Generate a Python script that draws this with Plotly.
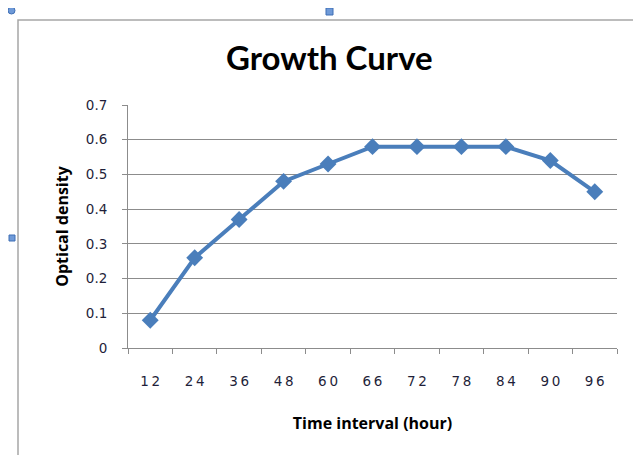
import plotly.graph_objects as go

hours = ["12", "24", "36", "48", "60", "66", "72", "78", "84", "90", "96"]
hour_labels = ["1\u20092", "2\u20094", "3\u20096", "4\u20098", "6\u20090", "6\u20096",
               "7\u20092", "7\u20098", "8\u20094", "9\u20090", "9\u20096"]
optical_density = [0.08, 0.26, 0.37, 0.48, 0.53, 0.58, 0.58, 0.58, 0.58, 0.54, 0.45]
y_ticks = [0, 0.1, 0.2, 0.3, 0.4, 0.5, 0.6, 0.7]
y_tick_labels = ["0", "0.1", "0.2", "0.3", "0.4", "0.5", "0.6", "0.7"]

W, H = 641, 455
OFF = 8  # page body margin
L, R, T, B = 120, 32, 97, 115
pw, ph = W - L - R, H - T - B

def px(x):  # screen x -> paper
    return (x - OFF - L) / pw

def py(y):  # screen y -> paper
    return (H - B - (y - OFF)) / ph

blue = "#4A7EBB"
grid = "#8C8C8C"
tickfont = dict(family="DejaVu Sans", size=13.5, color="#1F1F3A")
titlefont = dict(family="Open Sans", size=16, color="black")

fig = go.Figure()
fig.add_trace(go.Scatter(
    x=hours, y=optical_density, mode="lines+markers",
    line=dict(color=blue, width=4),
    marker=dict(symbol="diamond", size=13, color=blue),
    showlegend=False, cliponaxis=False,
))

fig.update_layout(
    width=W, height=H,
    margin=dict(l=L, r=R, t=T, b=B),
    paper_bgcolor="white", plot_bgcolor="white",
    font=dict(family="Lato, DejaVu Sans, sans-serif", color="black"),
    xaxis=dict(
        type="category", range=[-0.5, 10.5],
        tickvals=hours, ticktext=hour_labels,
        tickson="boundaries", ticks="outside", ticklen=5, tickcolor=grid,
        showline=True, linecolor=grid, linewidth=1,
        showgrid=False, zeroline=False,
        tickfont=tickfont,
        ticklabelstandoff=21,
        title=dict(text="<b>Time interval (hour)</b>", font=titlefont, standoff=29),
    ),
    yaxis=dict(
        range=[0, 0.7], tickvals=y_ticks, ticktext=y_tick_labels,
        ticks="outside", ticklen=5, tickcolor=grid,
        showline=True, linecolor=grid, linewidth=1,
        showgrid=True, gridcolor=grid, gridwidth=1, zeroline=False,
        tickfont=tickfont,
        ticklabelstandoff=12,
        title=dict(text="<b>Optical density</b>", font=titlefont, standoff=13),
    ),
    shapes=[
        dict(type="rect", xref="paper", yref="paper",
             x0=px(18), x1=px(638), y0=py(470), y1=py(20),
             line=dict(color="#A6A6A6", width=1.5), fillcolor="rgba(0,0,0,0)",
             layer="below"),
        dict(type="rect", xref="paper", yref="paper",
             x0=px(326), x1=px(333), y0=py(15), y1=py(8),
             line=dict(color="#3F6FB5", width=1), fillcolor="#6F9AD8"),
        dict(type="rect", xref="paper", yref="paper",
             x0=px(9), x1=px(15), y0=py(241), y1=py(235),
             line=dict(color="#3F6FB5", width=1), fillcolor="#6F9AD8"),
        dict(type="circle", xref="paper", yref="paper",
             x0=px(8), x1=px(15), y0=py(14), y1=py(7),
             line=dict(color="#3F6FB5", width=1), fillcolor="#6F9AD8"),
    ],
    annotations=[
        dict(text="<b>Growth Curve</b>", xref="paper", yref="paper",
             x=px(329), y=py(57), xanchor="center", yanchor="middle",
             showarrow=False, font=dict(family="Lato", size=33, color="black")),
    ],
)

fig.write_html("out.html")
